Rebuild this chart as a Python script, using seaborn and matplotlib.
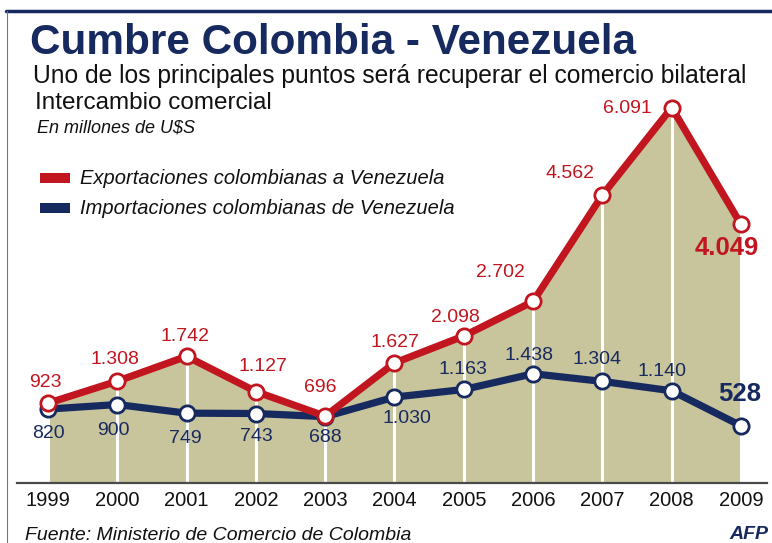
import matplotlib
matplotlib.use("Agg")
import matplotlib.pyplot as plt
import matplotlib.patches as mpatches
from matplotlib.lines import Line2D
import seaborn as sns
import pandas as pd

years = [1999, 2000, 2001, 2002, 2003, 2004, 2005, 2006, 2007, 2008, 2009]
exportaciones = [923, 1308, 1742, 1127, 696, 1627, 2098, 2702, 4562, 6091, 4049]
importaciones = [820, 900, 749, 743, 688, 1030, 1163, 1438, 1304, 1140, 528]

# label offsets in pixels from each point
exp_offsets = [(-3, 21), (-2, 22), (-2, 20), (7, 25), (-5, 29), (0, 20),
               (-8, 19), (-33, 29), (-32, 22), (-44, -1), (-14, -24)]
imp_offsets = [(0, -24), (-4, -26), (-1, -25), (0, -23), (0, -21), (12, -21),
               (-1, 20), (-4, 18), (-5, 22), (-10, 19), (-1, 32)]

RED = "#c1161f"
NAVY = "#172a5f"
KHAKI = "#c8c49c"
W, H = 772, 543

sns.set_theme(style="white")
plt.rcParams["font.family"] = ["Liberation Sans", "DejaVu Sans"]

df = pd.DataFrame({"year": years, "exp": exportaciones, "imp": importaciones})


def fmt(v):
    return f"{v:,}".replace(",", ".")


def fx(px):
    return px / W


def fy(py):
    return 1 - py / H


fig = plt.figure(figsize=(W / 100, H / 100), dpi=100)
fig.patch.set_facecolor("white")
ax = fig.add_axes([fx(17), fy(483), 750 / W, 393 / H])

ymin = -472
ax.fill_between(df["year"], ymin, df["exp"], color=KHAKI, lw=0, zorder=1)
ax.vlines(df["year"], ymin, df["exp"], color="white", lw=2.2, zorder=2)

sns.lineplot(data=df, x="year", y="imp", ax=ax, color=NAVY, lw=5.2,
             marker="o", markersize=11, markerfacecolor="white",
             markeredgecolor=NAVY, markeredgewidth=2, zorder=3)
sns.lineplot(data=df, x="year", y="exp", ax=ax, color=RED, lw=5.2,
             marker="o", markersize=11, markerfacecolor="white",
             markeredgecolor=RED, markeredgewidth=2, zorder=4)
for ln in ax.lines:
    ln.set_clip_on(False)

for i, (yr, v) in enumerate(zip(years, exportaciones)):
    last = i == len(years) - 1
    ax.annotate(fmt(v), (yr, v), xytext=exp_offsets[i], textcoords="offset pixels",
                ha="center", va="center", color=RED,
                fontsize=18.5 if last else 14, fontweight="bold" if last else "normal",
                zorder=6, annotation_clip=False)
for i, (yr, v) in enumerate(zip(years, importaciones)):
    last = i == len(years) - 1
    ax.annotate(fmt(v), (yr, v), xytext=imp_offsets[i], textcoords="offset pixels",
                ha="center", va="center", color=NAVY,
                fontsize=18.5 if last else 14, fontweight="bold" if last else "normal",
                zorder=6, annotation_clip=False)

ax.set_xlim(1998.553, 2009.375)
ax.set_ylim(ymin, 6399)
ax.set_xticks(years)
ax.set_xticklabels([str(y) for y in years], fontsize=14.5, color="#111111")
ax.tick_params(axis="x", length=0, pad=6)
ax.set_yticks([])
ax.set_xlabel("")
ax.set_ylabel("")
for s in ["top", "left", "right"]:
    ax.spines[s].set_visible(False)
ax.spines["bottom"].set_color("#4a4a4a")
ax.spines["bottom"].set_linewidth(1.6)
ax.set_facecolor("none")

# frame lines
fig.add_artist(Line2D([fx(6), 1], [fy(11), fy(11)], color=NAVY, lw=2.5))
fig.add_artist(Line2D([fx(7), fx(7)], [fy(11), 0], color="#777777", lw=0.8))

# texts
fig.text(fx(30), fy(54), "Cumbre Colombia - Venezuela", fontsize=30.4,
         fontweight="bold", color=NAVY, va="baseline")
fig.text(fx(33), fy(83), "Uno de los principales puntos será recuperar el comercio bilateral",
         fontsize=17.7, color="#111111", va="baseline")
fig.text(fx(35), fy(109), "Intercambio comercial", fontsize=17.5,
         color="#111111", va="baseline")
fig.text(fx(37), fy(133), "En millones de U$S", fontsize=13, style="italic",
         color="#111111", va="baseline")

legend_items = [("Exportaciones colombianas a Venezuela", RED, 178),
                ("Importaciones colombianas de Venezuela", NAVY, 208)]
for label, col, yc in legend_items:
    fig.add_artist(mpatches.Rectangle((fx(40), fy(yc + 5)), 30 / W, 10 / H,
                                      color=col, lw=0))
    fig.text(fx(80), fy(yc), label, fontsize=14.5, style="italic",
             color="#111111", va="center")

fig.text(fx(25), fy(540), "Fuente: Ministerio de Comercio de Colombia", fontsize=14,
         style="italic", color="#111111", va="baseline")
fig.text(fx(768), fy(539), "AFP", fontsize=14, style="italic", fontweight="bold",
         color=NAVY, va="baseline", ha="right")

fig.savefig("out.png", dpi=100)
